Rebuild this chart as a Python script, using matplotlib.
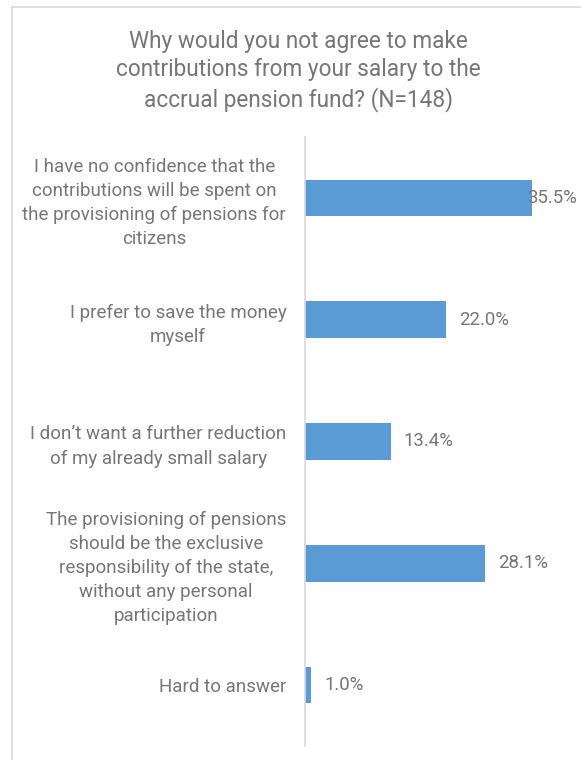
import matplotlib
matplotlib.use("Agg")
import matplotlib.pyplot as plt
from matplotlib.lines import Line2D

plt.rcParams['font.family'] = ['Roboto', 'DejaVu Sans']

title = "Why would you not agree to make\ncontributions from your salary to the\naccrual pension fund? (N=148)"
categories = [
    "I have no confidence that the\ncontributions will be spent on\nthe provisioning of pensions for\ncitizens",
    "I prefer to save the money\nmyself",
    "I don\u2019t want a further reduction\nof my already small salary",
    "The provisioning of pensions\nshould be the exclusive\nresponsibility of the state,\nwithout any personal\nparticipation",
    "Hard to answer",
]
values = [35.5, 22.0, 13.4, 28.1, 1.0]
value_labels = ["35.5%", "22.0%", "13.4%", "28.1%", "1.0%"]

TEXT = "#767676"
BAR = "#5B9BD5"
GRID = "#D9D9D9"

W, H = 581, 760
fig = plt.figure(figsize=(W / 100, H / 100), dpi=100)
fig.patch.set_facecolor("white")

# chart frame (top and left edges)
fig.add_artist(Line2D([12 / W, 1.0], [1 - 7 / H, 1 - 7 / H], color=GRID, lw=1.2, transform=fig.transFigure))
fig.add_artist(Line2D([12 / W, 12 / W], [0, 1 - 7 / H], color=GRID, lw=1.2, transform=fig.transFigure))

ax = fig.add_axes([305 / W, 14 / H, 256 / W, 609 / H])
pos = list(range(len(categories)))
ax.barh(pos, values, height=0.3, color=BAR, zorder=2)
ax.set_xlim(0, 40)
ax.set_ylim(len(categories) - 0.5, -0.5)

ax.set_yticks(pos)
ax.set_yticklabels(categories, fontsize=13.5, color=TEXT, linespacing=1.43,
                   ha="right", multialignment="center")
ax.tick_params(axis="y", length=0, pad=13.5)
ax.set_xticks([])
for s in ["top", "right", "bottom"]:
    ax.spines[s].set_visible(False)
ax.spines["left"].set_color(GRID)
ax.spines["left"].set_linewidth(1.2)

# value labels, kept inside the chart frame
fig.canvas.draw()
renderer = fig.canvas.get_renderer()
right_limit = 577
for i, (v, lab) in enumerate(zip(values, value_labels)):
    x_disp, y_disp = ax.transData.transform((v, i))
    t = fig.text(0, 0, lab, fontsize=13.4, color=TEXT, va="center", ha="left")
    w = t.get_window_extent(renderer).width
    x_start = min(x_disp + 13, right_limit - w)
    t.set_position((x_start / W, y_disp / H))

fig.text(298 / W, 1 - 71 / H, title, ha="center", va="center", fontsize=16.3, color=TEXT, linespacing=1.32)

fig.savefig("out.png", dpi=100, facecolor="white")
